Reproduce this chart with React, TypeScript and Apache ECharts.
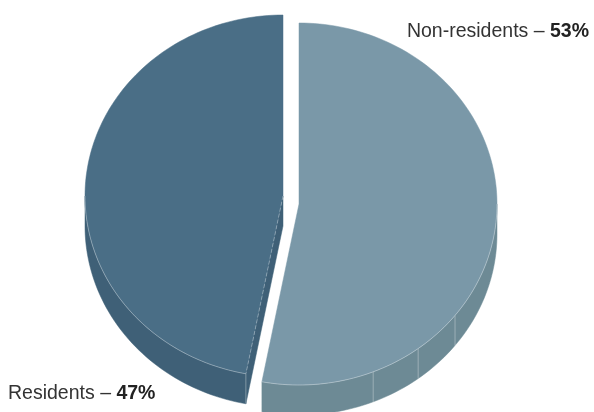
import React, { useEffect, useRef } from "react";
import * as echarts from "echarts";

const categories = ["Non-residents", "Residents"];
const values = [53, 47];
const topColors = ["#7a98a8", "#4a6e86"];
const sideColors = ["#6d8a95", "#3f6077"];

const FONT = "'Liberation Sans', Arial, Helvetica, sans-serif";

export default function App() {
  const ref = useRef<HTMLDivElement>(null);

  useEffect(() => {
    const chart = echarts.init(ref.current!, null, { renderer: "svg" });
    const total = values.reduce((a, b) => a + b, 0);
    const starts: number[] = [];
    let acc = 0;
    values.forEach((v) => {
      starts.push((acc / total) * 360);
      acc += v;
    });

    const RX = 198;
    const RY = 181;
    const DEPTH = 30;
    const centers = [
      [299, 204],
      [283, 196],
    ];
    const labelPos = [
      { x: 589, y: 30, align: "right" },
      { x: 8, y: 392, align: "left" },
    ];
    const facetAngles = [128, 143, 158];
    const hi = "rgba(255,255,255,0.32)";

    const renderItem = (params: any, api: any) => {
      const i = params.dataIndex;
      const v = api.value(0) as number;
      const a0 = starts[i];
      const a1 = a0 + (v / total) * 360;
      const [cx, cy] = centers[i];
      const pt = (deg: number, dz = 0) => {
        const r = (deg * Math.PI) / 180;
        return [cx + RX * Math.sin(r), cy - RY * Math.cos(r) + dz];
      };
      const arc = (from: number, to: number, dz = 0) => {
        const n = Math.max(2, Math.ceil(Math.abs(to - from) / 1.5));
        const pts: number[][] = [];
        for (let k = 0; k <= n; k++) pts.push(pt(from + ((to - from) * k) / n, dz));
        return pts;
      };
      const children: any[] = [];

      // outer wall (front half only)
      const w0 = Math.max(a0, 90);
      const w1 = Math.min(a1, 270);
      if (w1 > w0) {
        const top = arc(w0, w1);
        const bot = arc(w1, w0, DEPTH);
        children.push({
          type: "polygon",
          shape: { points: top.concat(bot) },
          style: { fill: sideColors[i], stroke: sideColors[i], lineWidth: 0.5 },
        });
        facetAngles.forEach((fa) => {
          if (fa > w0 && fa < w1) {
            const p = pt(fa);
            children.push({
              type: "line",
              shape: { x1: p[0], y1: p[1], x2: p[0], y2: p[1] + DEPTH },
              style: { stroke: hi, lineWidth: 1 },
            });
          }
        });
      }

      // radial cut faces
      const faceAt = (ang: number) => {
        const p = pt(ang);
        const q = pt(ang, DEPTH);
        children.push({
          type: "polygon",
          shape: { points: [[cx, cy], p, q, [cx, cy + DEPTH]] },
          style: { fill: sideColors[i], stroke: sideColors[i], lineWidth: 0.5 },
        });
        children.push({
          type: "line",
          shape: { x1: p[0], y1: p[1], x2: p[0], y2: p[1] + DEPTH },
          style: { stroke: hi, lineWidth: 1 },
        });
      };
      if (Math.sin((a0 * Math.PI) / 180) < -0.01) faceAt(a0);
      if (Math.sin((a1 * Math.PI) / 180) > 0.01) faceAt(a1);

      // top face
      children.push({
        type: "polygon",
        shape: { points: [[cx, cy]].concat(arc(a0, a1)) },
        style: { fill: topColors[i], stroke: topColors[i], lineWidth: 0.5 },
      });
      if (w1 > w0) {
        children.push({
          type: "polyline",
          shape: { points: arc(w0, w1) },
          style: { stroke: hi, lineWidth: 1, fill: null },
        });
      }
      if (Math.sin((a0 * Math.PI) / 180) < -0.01) {
        const p = pt(a0);
        children.push({
          type: "line",
          shape: { x1: cx, y1: cy, x2: p[0], y2: p[1] },
          style: { stroke: hi, lineWidth: 1, lineDash: [4, 2] },
        });
      }

      // label
      const lp = labelPos[i];
      children.push({
        type: "text",
        x: lp.x,
        y: lp.y,
        style: {
          text: `{n|${categories[i]} – }{b|${v}%}`,
          align: lp.align,
          verticalAlign: "middle",
          rich: {
            n: { fontSize: 19.5, fontFamily: FONT, fill: "#333333" },
            b: { fontSize: 19.5, fontFamily: FONT, fontWeight: "bold", fill: "#222222" },
          },
        },
      });

      return { type: "group", children };
    };

    chart.setOption({
      animation: false,
      series: [
        {
          type: "custom",
          coordinateSystem: "none",
          silent: true,
          renderItem,
          data: values.map((v, i) => ({ value: [v], name: categories[i] })),
        },
      ],
    });

    return () => chart.dispose();
  }, []);

  return (
    <div
      ref={ref}
      style={{ position: "fixed", left: 0, top: 0, width: 594, height: 412 }}
    />
  );
}
